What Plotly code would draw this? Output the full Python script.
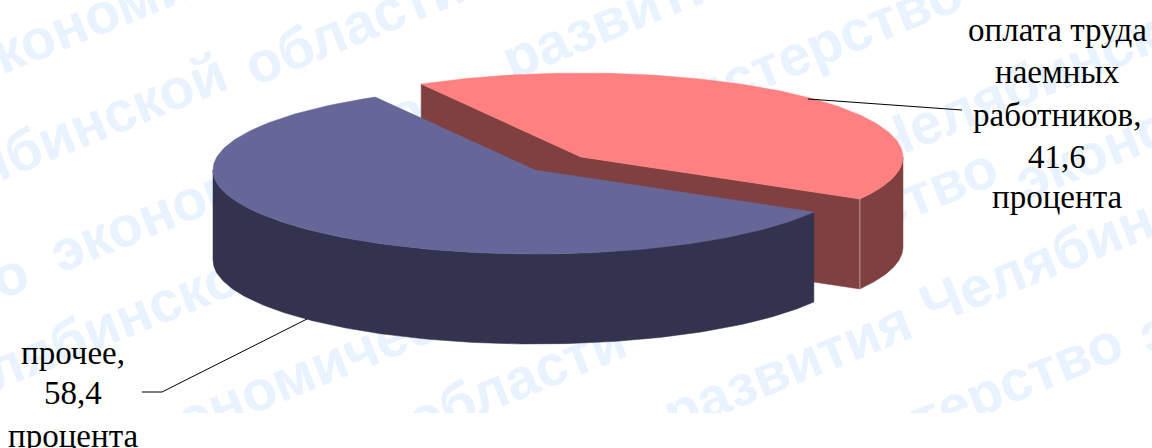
import numpy as np
import plotly.graph_objects as go

categories = ["оплата труда наемных работников", "прочее"]
values = [41.6, 58.4]
top_colors = ["#FF8080", "#666699"]
wall_colors = ["#804040", "#333350"]
label_lines = [["оплата труда", "наемных", "работников,", "{v}", "процента"],
               ["прочее,", "{v}", "процента"]]
label_x = [1057, 73]
label_y = [[30, 72, 115, 157, 197], [353, 393, 436]]

watermark_font = "Liberation Sans"
watermark_color = "#E9F2FF"
watermark_text = ["экономического", "Челябинской", "области", "экономического", "развития",
                  "Министерство", "Челябинской", "Челябинской", "экономического", "области",
                  "Министерство", "экономического", "развития", "Челябинской", "Министерство",
                  "экономического", "Министерство"]
watermark_x = [175, 48, 352, 262, 624, 769, 93, 1045, 332, 514, 804, 1227, 785, 1095, 929, 1350, -165]
watermark_y = [-22, 135, 20, 165, 8, 60, 325, 70, 355, 375, 235, 93, 362, 233, 410, 247, 340]

W, H = 1152, 448
A, B, DEPTH = 322, 84, 90
START = 30
centers = [(581, 157), (535, 170)]


def arc(c, t0, t1, dy=0):
    t = np.radians(np.linspace(t0, t1, 160))
    return c[0] + A * np.cos(t), c[1] + dy + B * np.sin(t)


sweep = [v / sum(values) * 360 for v in values]
red_t0, red_t1 = START - sweep[0], START
blue_t0, blue_t1 = START, START + sweep[1]
c_red, c_blue = centers

fig = go.Figure()


def poly(xs, ys, color):
    fig.add_trace(go.Scatter(x=np.r_[xs, xs[0]], y=np.r_[ys, ys[0]], mode="lines", fill="toself",
                             fillcolor=color, line=dict(width=0.5, color=color),
                             hoverinfo="skip", showlegend=False))


def wall(c, t0, t1, color):
    x, y = arc(c, t0, t1)
    poly(np.r_[x, x[::-1]], np.r_[y, y[::-1] + DEPTH], color)


def cut(c, t, color):
    x, y = arc(c, t, t)
    poly(np.array([c[0], x[0], x[0], c[0]]),
         np.array([c[1], y[0], y[0] + DEPTH, c[1] + DEPTH]), color)


# Red slice
cut(c_red, red_t0, wall_colors[0])
cut(c_red, red_t1, wall_colors[0])
wall(c_red, 0, red_t1, wall_colors[0])
x, y = arc(c_red, red_t0, red_t1)
poly(np.r_[c_red[0], x], np.r_[c_red[1], y], top_colors[0])
ex, ey = arc(c_red, red_t1, red_t1)
fig.add_trace(go.Scatter(x=[ex[0], ex[0]], y=[ey[0], ey[0] + DEPTH], mode="lines",
                         line=dict(color="#B89A9A", width=1), hoverinfo="skip", showlegend=False))
# Blue slice
wall(c_blue, blue_t0, 180, wall_colors[1])
x, y = arc(c_blue, blue_t0, blue_t1)
poly(np.r_[c_blue[0], x], np.r_[c_blue[1], y], top_colors[1])

# Leader lines
fig.add_trace(go.Scatter(x=[808, 962], y=[99, 110], mode="lines", line=dict(color="black", width=1),
                         hoverinfo="skip", showlegend=False))
fig.add_trace(go.Scatter(x=[307, 162, 142], y=[319, 392, 392], mode="lines", line=dict(color="black", width=1),
                         hoverinfo="skip", showlegend=False))

shapes = []
for txt, cx, cy in zip(watermark_text, watermark_x, watermark_y):
    shapes.append(dict(type="rect", xref="x", yref="y", x0=cx - 1, x1=cx + 1, y0=cy - 1, y1=cy + 1,
                       layer="below", line=dict(width=0), fillcolor="rgba(0,0,0,0)",
                       label=dict(text=f"<b>{txt}</b>", textangle=-22, textposition="middle center",
                                  font=dict(family=watermark_font, size=57, color=watermark_color))))
shapes.append(dict(type="rect", xref="x", yref="y", x0=0, x1=W, y0=413, y1=H, layer="below",
                   line=dict(width=0), fillcolor="white"))

annotations = []
for i, lines in enumerate(label_lines):
    for line, ly in zip(lines, label_y[i]):
        annotations.append(dict(x=label_x[i], y=ly, xref="x", yref="y", showarrow=False,
                                text=line.format(v=f"{values[i]:.1f}".replace(".", ",")),
                                font=dict(family="Liberation Serif", size=33, color="black"),
                                xanchor="center", yanchor="middle"))

fig.update_layout(width=W, height=H, margin=dict(l=0, r=0, t=0, b=0),
                  paper_bgcolor="white", plot_bgcolor="white", showlegend=False,
                  xaxis=dict(range=[0, W], visible=False, fixedrange=True),
                  yaxis=dict(range=[H, 0], visible=False, fixedrange=True),
                  shapes=shapes, annotations=annotations)
fig.write_html("out.html", config=dict(displayModeBar=False),
               post_script="document.body.style.margin='0';document.body.style.overflow='hidden';")
